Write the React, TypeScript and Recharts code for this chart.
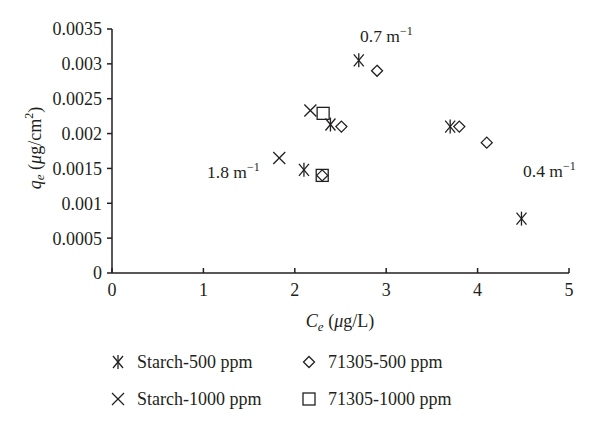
import React from "react";
import { ScatterChart, Scatter, XAxis, YAxis } from "recharts";

const starch500 = [
  { x: 2.7, y: 0.00305 },
  { x: 2.39, y: 0.00213 },
  { x: 3.7, y: 0.0021 },
  { x: 2.1, y: 0.00148 },
  { x: 4.48, y: 0.00078 },
];
const starch1000 = [
  { x: 2.17, y: 0.00233 },
  { x: 1.83, y: 0.00165 },
];
const p71305_500 = [
  { x: 2.9, y: 0.0029 },
  { x: 2.51, y: 0.0021 },
  { x: 3.8, y: 0.0021 },
  { x: 2.3, y: 0.0014 },
  { x: 4.1, y: 0.00187 },
];
const p71305_1000 = [
  { x: 2.31, y: 0.00229 },
  { x: 2.3, y: 0.0014 },
];
const xTicks = [0, 1, 2, 3, 4, 5];
const yTicks = [0, 0.0005, 0.001, 0.0015, 0.002, 0.0025, 0.003, 0.0035];

const FONT = "'Liberation Serif', 'Times New Roman', serif";
const INK = "#231f20";

const Asterisk = ({ cx, cy }: any) => (
  <g stroke={INK} strokeWidth={1.3} fill="none">
    <line x1={cx - 5} y1={cy - 6} x2={cx + 5} y2={cy + 6} />
    <line x1={cx - 5} y1={cy + 6} x2={cx + 5} y2={cy - 6} />
    <line x1={cx} y1={cy - 7} x2={cx} y2={cy + 7} />
  </g>
);
const Cross = ({ cx, cy }: any) => (
  <g stroke={INK} strokeWidth={1.3} fill="none">
    <line x1={cx - 6} y1={cy - 6} x2={cx + 6} y2={cy + 6} />
    <line x1={cx - 6} y1={cy + 6} x2={cx + 6} y2={cy - 6} />
  </g>
);
const Diamond = ({ cx, cy }: any) => (
  <path
    d={`M${cx} ${cy - 5.5} L${cx + 5.5} ${cy} L${cx} ${cy + 5.5} L${cx - 5.5} ${cy} Z`}
    stroke={INK}
    strokeWidth={1.3}
    fill="none"
  />
);
const Square = ({ cx, cy }: any) => (
  <rect x={cx - 6} y={cy - 6} width={12} height={12} stroke={INK} strokeWidth={1.3} fill="none" />
);

const legendItems = [
  { name: "Starch-500 ppm", Shape: Asterisk, x: 118, y: 362 },
  { name: "71305-500 ppm", Shape: Diamond, x: 309, y: 362 },
  { name: "Starch-1000 ppm", Shape: Cross, x: 118, y: 399 },
  { name: "71305-1000 ppm", Shape: Square, x: 309, y: 399 },
];

const annotations = [
  { text: "0.7", x: 360, y: 42 },
  { text: "1.8", x: 207, y: 178 },
  { text: "0.4", x: 523, y: 177 },
];

export default function App() {
  return (
    <div style={{ position: "absolute", left: 0, top: 0, width: 600, height: 433, background: "#fff" }}>
      <ScatterChart width={600} height={433} margin={{ top: 29, right: 31, bottom: 130, left: 0 }}>
        <XAxis
          type="number"
          dataKey="x"
          domain={[0, 5]}
          ticks={xTicks}
          interval={0}
          height={30}
          tickSize={-5}
          tickMargin={15}
          axisLine={{ stroke: INK, strokeWidth: 1.5 }}
          tickLine={{ stroke: INK, strokeWidth: 1.5 }}
          tick={{ fill: INK, fontSize: 18, fontFamily: FONT }}
        />
        <YAxis
          type="number"
          dataKey="y"
          domain={[0, 0.0035]}
          ticks={yTicks}
          interval={0}
          width={112}
          tickSize={5}
          tickMargin={5}
          axisLine={{ stroke: INK, strokeWidth: 1.5 }}
          tickLine={{ stroke: INK, strokeWidth: 1.5 }}
          tick={{ fill: INK, fontSize: 18, fontFamily: FONT }}
        />
        <Scatter name="Starch-500 ppm" data={starch500} shape={Asterisk} isAnimationActive={false} />
        <Scatter name="Starch-1000 ppm" data={starch1000} shape={Cross} isAnimationActive={false} />
        <Scatter name="71305-500 ppm" data={p71305_500} shape={Diamond} isAnimationActive={false} />
        <Scatter name="71305-1000 ppm" data={p71305_1000} shape={Square} isAnimationActive={false} />
      </ScatterChart>
      <svg
        width={600}
        height={433}
        style={{ position: "absolute", left: 0, top: 0, pointerEvents: "none" }}
        fontFamily={FONT}
        fill={INK}
      >
        <text x={37} y={148} fontSize={18} textAnchor="middle" transform="rotate(-90 37 148)" dominantBaseline="middle">
          <tspan fontStyle="italic">q</tspan>
          <tspan fontStyle="italic" fontSize={13} dy={4}>e</tspan>
          <tspan dy={-4}> (</tspan>
          <tspan fontStyle="italic">μ</tspan>
          <tspan>g/cm</tspan>
          <tspan fontSize={12} dy={-7}>2</tspan>
          <tspan dy={7}>)</tspan>
        </text>
        <text x={340} y={327} fontSize={18} textAnchor="middle">
          <tspan fontStyle="italic">C</tspan>
          <tspan fontStyle="italic" fontSize={13} dy={4}>e</tspan>
          <tspan dy={-4}> (</tspan>
          <tspan fontStyle="italic">μ</tspan>
          <tspan>g/L)</tspan>
        </text>
        {annotations.map((a) => (
          <text key={a.text} x={a.x} y={a.y} fontSize={17.5}>
            <tspan>{a.text} m</tspan>
            <tspan fontSize={12} dy={-7}>−1</tspan>
          </text>
        ))}
        {legendItems.map(({ name, Shape, x, y }) => (
          <g key={name}>
            <Shape cx={x} cy={y} />
            <text x={x + 19} y={y + 6} fontSize={18}>{name}</text>
          </g>
        ))}
      </svg>
    </div>
  );
}
